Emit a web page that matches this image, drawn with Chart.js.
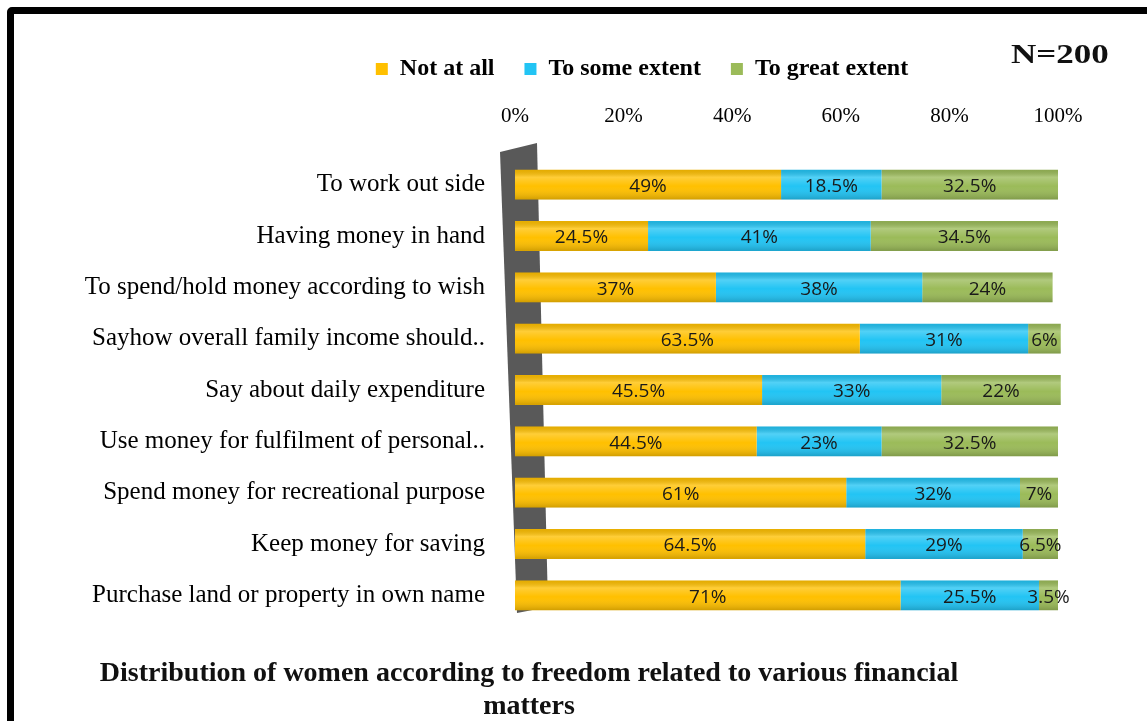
<!DOCTYPE html>
<html>
<head>
<meta charset="utf-8">
<title>Financial freedom of women</title>
<script src="https://cdn.jsdelivr.net/npm/chart.js@4.4.0/dist/chart.umd.min.js"></script>
<style>
    body { margin: 0; background: #fff; overflow: hidden; }
    #wrap { position: relative; width: 1147px; height: 721px; overflow: hidden; }
    #moldura { position: absolute; left: 7px; top: 7px; width: 1170px; height: 800px; border: 7px solid #000; border-radius: 5px; box-sizing: border-box; }
    #grafico { position: absolute; left: 0; top: 0; }
    #nTotal { position: absolute; left: 1011px; top: 38px; font: bold 28px 'Liberation Serif'; color: #111; transform: scaleX(1.25); transform-origin: left center; }
    #titulo { position: absolute; left: 29px; width: 1000px; top: 655px; text-align: center; font: bold 28px 'Liberation Serif'; line-height: 33px; color: #111; }
</style>
</head>
<body>
<div id="wrap">
    <div id="moldura"></div>
    <canvas id="grafico" width="1147" height="666"></canvas>
    <div id="nTotal">N=200</div>
    <div id="titulo">Distribution of women according to freedom related to various financial<br>matters</div>
</div>
<script>
const categorias = [
    'To work out side',
    'Having money in hand',
    'To spend/hold money according to wish',
    'Sayhow overall family income should..',
    'Say about daily expenditure',
    'Use money for fulfilment of personal..',
    'Spend money for recreational purpose',
    'Keep money for saving',
    'Purchase land or property in own name'
]

const notAtAll    = [49, 24.5, 37, 63.5, 45.5, 44.5, 61, 64.5, 71]
const someExtent  = [18.5, 41, 38, 31, 33, 23, 32, 29, 25.5]
const greatExtent = [32.5, 34.5, 24, 6, 22, 32.5, 7, 6.5, 3.5]

const ticksX = [0, 20, 40, 60, 80, 100]

// parede cinza atras das barras
const parede = {
    id: 'parede',
    beforeDatasetsDraw(chart) {
        const {ctx, chartArea} = chart
        const l = chartArea.left
        ctx.save()
        ctx.fillStyle = '#595959'
        ctx.beginPath()
        ctx.moveTo(l - 15, chartArea.top - 7)
        ctx.lineTo(l + 22, chartArea.top - 16)
        ctx.lineTo(l + 33, chartArea.bottom - 14)
        ctx.lineTo(l + 2, chartArea.bottom - 8)
        ctx.closePath()
        ctx.fill()
        ctx.restore()
    }
}

// legenda fica mais para a direita, por cima das barras
const posLegenda = {
    id: 'posLegenda',
    afterLayout(chart) {
        chart.legend.left += 113
        chart.legend.right += 113
    }
}

// brilho em cima e sombra embaixo, para parecer cilindro
const sombraBarras = {
    id: 'sombraBarras',
    afterDatasetsDraw(chart) {
        const ctx = chart.ctx
        ctx.save()
        chart.data.datasets.forEach((ds, i) => {
            chart.getDatasetMeta(i).data.forEach((bar) => {
                const h = bar.height
                const g = ctx.createLinearGradient(0, bar.y - h / 2, 0, bar.y + h / 2)
                g.addColorStop(0, 'rgba(0,0,0,0.10)')
                g.addColorStop(0.25, 'rgba(255,255,255,0.22)')
                g.addColorStop(0.55, 'rgba(255,255,255,0)')
                g.addColorStop(1, 'rgba(0,0,0,0.18)')
                ctx.fillStyle = g
                ctx.fillRect(bar.base, bar.y - h / 2, bar.x - bar.base, h)
            })
        })
        ctx.restore()
    }
}

// valores em cima de cada pedaco da barra
const rotulosBarras = {
    id: 'rotulosBarras',
    afterDatasetsDraw(chart) {
        const ctx = chart.ctx
        ctx.save()
        ctx.font = '19px "Open Sans"'
        ctx.fillStyle = '#1a1a1a'
        ctx.textAlign = 'center'
        ctx.textBaseline = 'middle'
        chart.data.datasets.forEach((ds, i) => {
            chart.getDatasetMeta(i).data.forEach((bar, j) => {
                ctx.fillText(ds.data[j] + '%', (bar.x + bar.base) / 2, bar.y + 2)
            })
        })
        ctx.restore()
    }
}

const ctx = document.getElementById('grafico')

new Chart(ctx, {
    type: 'bar',
    data: {
        labels: categorias,
        datasets: [
            { label: 'Not at all', data: notAtAll, backgroundColor: '#FFC000' },
            { label: 'To some extent', data: someExtent, backgroundColor: '#22C4F4' },
            { label: 'To great extent', data: greatExtent, backgroundColor: '#9BBB59' }
        ]
    },
    options: {
        indexAxis: 'y',
        responsive: false,
        animation: false,
        layout: { padding: { left: 0, right: 89, top: 27, bottom: 19 } },
        datasets: {
            bar: { barPercentage: 0.58, categoryPercentage: 1, borderWidth: 0, clip: false }
        },
        scales: {
            x: {
                position: 'top',
                stacked: true,
                min: 0,
                max: 100,
                afterBuildTicks: (scale) => { scale.ticks = ticksX.map(v => ({ value: v })) },
                afterFit: (scale) => { scale.height = 68 },
                grid: { display: false, drawTicks: false },
                border: { display: false },
                ticks: {
                    padding: 30,
                    color: '#000',
                    font: { family: 'Liberation Serif', size: 21 },
                    callback: (v) => v + '%'
                }
            },
            y: {
                stacked: true,
                afterFit: (scale) => { scale.width = 515 },
                grid: { display: false, drawTicks: false },
                border: { display: false },
                ticks: {
                    padding: 30,
                    color: '#000',
                    font: { family: 'Liberation Serif', size: 25 }
                }
            }
        },
        plugins: {
            legend: {
                position: 'top',
                labels: {
                    boxWidth: 12,
                    boxHeight: 12,
                    padding: 30,
                    color: '#000',
                    font: { family: 'Liberation Serif', size: 24, weight: 'bold' }
                }
            },
            tooltip: { enabled: false }
        }
    },
    plugins: [parede, posLegenda, sombraBarras, rotulosBarras]
})
</script>
</body>
</html>
